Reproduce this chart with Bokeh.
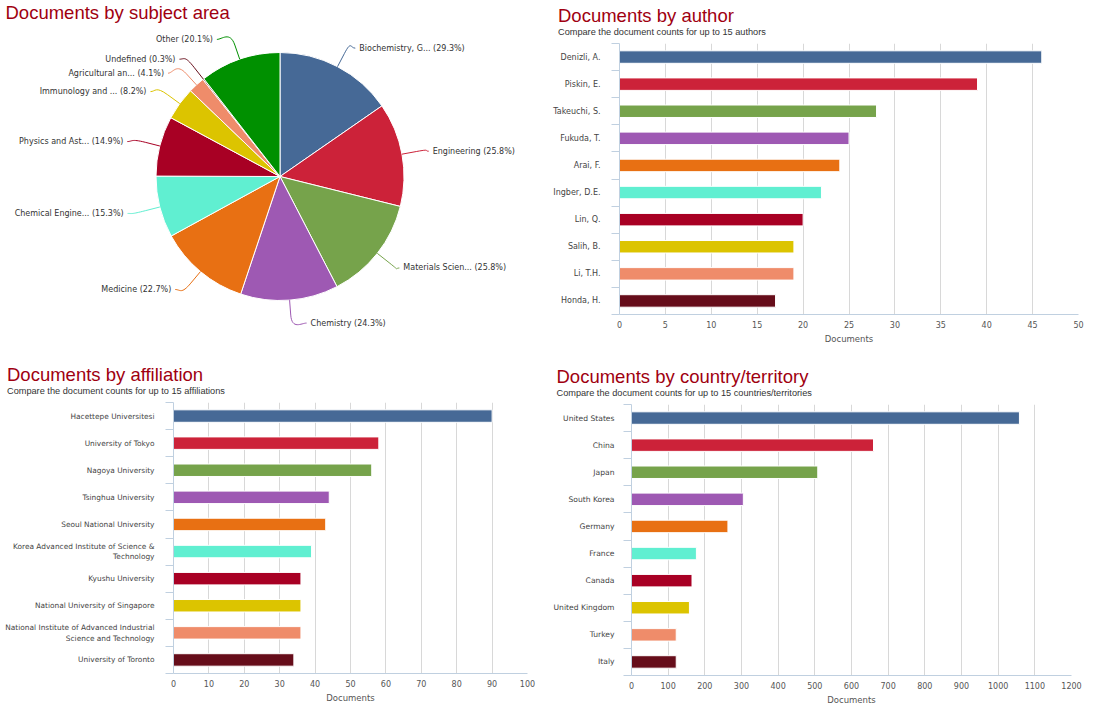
import math
from bokeh.plotting import figure
from bokeh.models import ColumnDataSource, Range1d, FixedTicker, Title
from bokeh.layouts import column, row
from bokeh.core.properties import value
from bokeh.embed import file_html
from bokeh.resources import INLINE

# ---------------- data ----------------
subject_areas = ["Biochemistry, G...", "Engineering", "Materials Scien...", "Chemistry",
                 "Medicine", "Chemical Engine...", "Physics and Ast...", "Immunology and ...",
                 "Agricultural an...", "Undefined", "Other"]
subject_pct = [29.3, 25.8, 25.8, 24.3, 22.7, 15.3, 14.9, 8.2, 4.1, 0.3, 20.1]
subject_colors = ["#466996", "#cc2239", "#76a34b", "#9e59b3", "#e87013", "#60efd1",
                  "#a80024", "#dcc400", "#ef8c6a", "#660d1a", "#009000"]

authors = ["Denizli, A.", "Piskin, E.", "Takeuchi, S.", "Fukuda, T.", "Arai, F.",
           "Ingber, D.E.", "Lin, Q.", "Salih, B.", "Li, T.H.", "Honda, H."]
author_docs = [46, 39, 28, 25, 24, 22, 20, 19, 19, 17]

affiliations = ["Hacettepe Universitesi", "University of Tokyo", "Nagoya University",
                "Tsinghua University", "Seoul National University",
                "Korea Advanced Institute of Science &\nTechnology", "Kyushu University",
                "National University of Singapore",
                "National Institute of Advanced Industrial\nScience and Technology",
                "University of Toronto"]
affiliation_docs = [90, 58, 56, 44, 43, 39, 36, 36, 36, 34]

countries = ["United States", "China", "Japan", "South Korea", "Germany", "France",
             "Canada", "United Kingdom", "Turkey", "Italy"]
country_docs = [1058, 660, 508, 305, 263, 177, 165, 158, 122, 122]

bar_colors = ["#466996", "#cc2239", "#76a34b", "#9e59b3", "#e87013", "#60efd1",
              "#a80024", "#dcc400", "#ef8c6a", "#660d1a"]

TITLE_COLOR = "#a00010"
TITLE_FONT = "Liberation Sans"
LABEL_FONT = "DejaVu Sans"

# ---------------- pie ----------------
W1, H1 = 550, 360
p1 = figure(width=W1, height=H1, x_range=Range1d(0, W1), y_range=Range1d(0, H1),
            toolbar_location=None, output_backend="svg", title=None,
            x_axis_location=None, y_axis_location=None, min_border=0)
p1.frame_align = False
p1.grid.visible = False
p1.outline_line_color = None

cx, cy, r = 279.5, H1 - 176, 124
total = sum(subject_pct)
starts, ends, mids = [], [], []
cum = 0.0
for v in subject_pct:
    a0 = math.pi / 2 - cum / total * 2 * math.pi
    cum += v
    a1 = math.pi / 2 - cum / total * 2 * math.pi
    starts.append(a0)
    ends.append(a1)
    mids.append((a0 + a1) / 2)

p1.wedge(x=cx, y=cy, radius=r, start_angle="s", end_angle="e", direction="clock",
         fill_color="c", line_color="white", line_width=1,
         source=ColumnDataSource(dict(s=starts, e=ends, c=subject_colors)))

R_Y, R_X, GAP = 146, 154, 14
labels = []
for name, v, m, c in zip(subject_areas, subject_pct, mids, subject_colors):
    side = 1 if math.cos(m) >= 0 else -1
    nat = cy + R_Y * math.sin(m) - 1
    labels.append(dict(text=f"{name} ({v}%)", m=m, c=c, side=side, nat=nat, ly=nat))

# distribute overlapping labels per side (groups centred on their natural mean)
for side in (1, -1):
    grp = sorted([l for l in labels if l["side"] == side], key=lambda l: -l["nat"])
    clusters = [[l] for l in grp]

    def place(cl):
        mean = sum(l["nat"] for l in cl) / len(cl)
        n = len(cl)
        for k, l in enumerate(cl):
            l["ly"] = mean - (k - (n - 1) / 2) * GAP

    for cl in clusters:
        place(cl)
    merged = True
    while merged:
        merged = False
        for i in range(len(clusters) - 1):
            if clusters[i][-1]["ly"] - clusters[i + 1][0]["ly"] < GAP:
                clusters[i] = clusters[i] + clusters.pop(i + 1)
                place(clusters[i])
                merged = True
                break

tx, ty, tt, ta = [], [], [], []
bx0, by0, bx1, by1, bcx0, bcy0, bcx1, bcy1, bc = [], [], [], [], [], [], [], [], []
sx0, sy0, sx1, sy1 = [], [], [], []
for l in labels:
    m, side = l["m"], l["side"]
    dy = l["ly"] - cy
    a = 0.5 * math.sqrt(max(R_X * R_X - dy * dy, 0.0)) + 0.5 * abs(R_X * math.cos(m))
    xt = cx + side * (a + (1 if side == 1 else 7))
    tx.append(xt)
    ty.append(l["ly"])
    tt.append(l["text"])
    ta.append("left" if side == 1 else "right")
    lx = xt - side * 4
    ex, ey = cx + r * math.cos(m), cy + r * math.sin(m)
    mx, my = cx + (r + 15) * math.cos(m), cy + (r + 15) * math.sin(m)
    kx, ky = cx + (r + 30) * math.cos(m), cy + (r + 30) * math.sin(m)
    bx0.append(lx); by0.append(l["ly"])
    bcx0.append(lx - side * 5); bcy0.append(l["ly"])
    bcx1.append(kx); bcy1.append(ky)
    bx1.append(mx); by1.append(my)
    bc.append(l["c"])
    sx0.append(mx); sy0.append(my); sx1.append(ex); sy1.append(ey)

p1.bezier(x0="x0", y0="y0", x1="x1", y1="y1", cx0="cx0", cy0="cy0", cx1="cx1", cy1="cy1",
          line_color="c", line_width=1,
          source=ColumnDataSource(dict(x0=bx0, y0=by0, x1=bx1, y1=by1, cx0=bcx0, cy0=bcy0,
                                       cx1=bcx1, cy1=bcy1, c=bc)))
p1.segment(x0=sx0, y0=sy0, x1=sx1, y1=sy1, line_color=bc, line_width=1)
p1.text(x="x", y="y", text="t", text_align="a", text_baseline="middle",
        text_font=value(LABEL_FONT), text_font_size="8px", text_color="#333333",
        source=ColumnDataSource(dict(x=tx, y=ty, t=tt, a=ta)))
p1.text(x=[5], y=[H1 - 1], text=["Documents by subject area"], text_baseline="top",
        text_font=value(TITLE_FONT), text_font_size="18.5px", text_color=TITLE_COLOR)


# ---------------- bar panels ----------------
def bar_panel(names, vals, xmax, step, title, subtitle, w, h, bl, br, bt, bb, toff, lfs,
              lstand=11):
    n = len(names)
    idx = list(range(n))
    src = ColumnDataSource(dict(y=idx, v=vals, c=bar_colors[:n]))
    p = figure(width=w, height=h, x_range=Range1d(0, xmax), y_range=Range1d(n - 0.5, -0.5),
               toolbar_location=None, output_backend="svg", title=None,
               min_border_left=bl, min_border_right=br, min_border_top=bt,
               min_border_bottom=bb)
    p.frame_align = False
    p.hbar(y="y", left=0, right="v", height=0.46, fill_color="c", line_color="white",
           line_width=1, source=src)
    p.outline_line_color = None
    p.ygrid.grid_line_color = None
    p.xgrid.grid_line_color = "#d8d8d8"

    xa = p.xaxis[0]
    xa.ticker = FixedTicker(ticks=list(range(0, xmax + 1, step)), minor_ticks=[])
    xa.axis_line_color = "#c0d0e0"
    xa.major_tick_line_color = None
    xa.major_tick_out = 0
    xa.major_tick_in = 0
    xa.minor_tick_line_color = None
    xa.major_label_standoff = 6
    xa.major_label_text_font = LABEL_FONT
    xa.major_label_text_font_size = "8px"
    xa.major_label_text_color = "#555555"
    xa.axis_label = "Documents"
    xa.axis_label_text_font = LABEL_FONT
    xa.axis_label_text_font_size = "8.5px"
    xa.axis_label_text_font_style = "normal"
    xa.axis_label_text_color = "#555555"
    xa.axis_label_standoff = 3

    ya = p.yaxis[0]
    ya.ticker = FixedTicker(ticks=idx, minor_ticks=[i - 0.5 for i in range(n + 1)])
    ya.major_label_overrides = {i: nm for i, nm in enumerate(names)}
    ya.axis_line_color = "#c0d0e0"
    ya.major_tick_line_color = None
    ya.major_tick_out = 0
    ya.major_tick_in = 0
    ya.minor_tick_line_color = "#c0d0e0"
    ya.minor_tick_in = 0
    ya.minor_tick_out = 8
    ya.major_label_standoff = lstand
    ya.major_label_text_font = LABEL_FONT
    ya.major_label_text_font_size = lfs
    ya.major_label_text_color = "#444444"

    sub = Title(text=subtitle, align="left", offset=toff, text_font=TITLE_FONT,
                text_font_size="9.2px", text_font_style="normal", text_color="#333333",
                standoff=14)
    p.add_layout(sub, "above")
    main = Title(text=title, align="left", offset=toff, text_font=TITLE_FONT,
                 text_font_size="18.5px", text_font_style="normal", text_color=TITLE_COLOR,
                 standoff=-16.4)
    p.add_layout(main, "above")
    return p


p2 = bar_panel(authors, author_docs, 50, 5, "Documents by author",
               "Compare the document counts for up to 15 authors",
               550, 360, 68, 22, 43, 46, -61.5, "8px")
p3 = bar_panel(affiliations, affiliation_docs, 100, 10, "Documents by affiliation",
               "Compare the document counts for up to 15 affiliations",
               550, 353, 173, 23, 42, 40, -166.5, "7.4px")
p4 = bar_panel(countries, country_docs, 1200, 100, "Documents by country/territory",
               "Compare the document counts for up to 15 countries/territories",
               550, 353, 81, 29, 44, 38, -75, "7.6px", lstand=9)

layout = column(row(p1, p2), row(p3, p4))
open("out.html", "w").write(file_html(layout, INLINE))
